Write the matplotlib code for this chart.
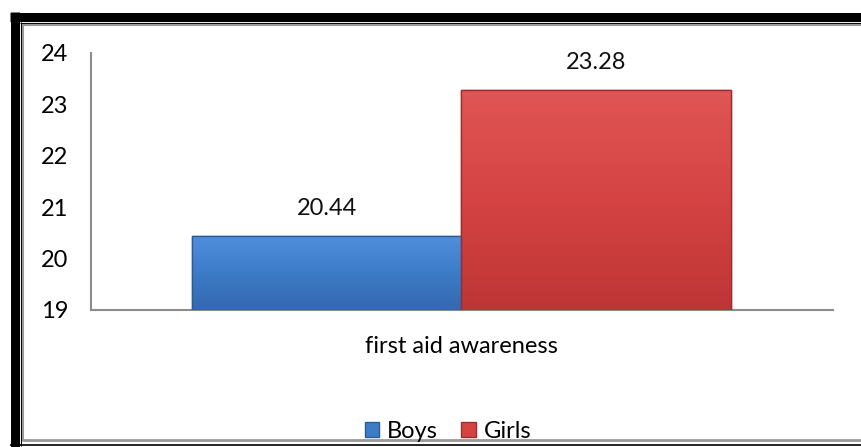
import numpy as np
import matplotlib.pyplot as plt
from matplotlib.patches import Rectangle
from matplotlib.lines import Line2D
from matplotlib.colors import LinearSegmentedColormap

categories = ["first aid awareness"]
groups = ["Boys", "Girls"]
values = [20.44, 23.28]
colors = ["#3D7CC8", "#D54343"]
tops = ["#4F8FDC", "#E05555"]
bottoms = ["#3568B0", "#BE3535"]
edges = ["#2B5C98", "#9E2E2E"]
y_ticks = [19, 20, 21, 22, 23, 24]

plt.rcParams['font.family'] = ['Lato', 'DejaVu Sans']

W, H = 861, 447
fig = plt.figure(figsize=(W / 100, H / 100), dpi=100)


def fx(px):
    return px / W


def fy(py):
    return 1 - py / H


def frame_line(xs, ys, color, lw):
    fig.add_artist(Line2D([fx(v) for v in xs], [fy(v) for v in ys], color=color,
                          lw=lw, solid_capstyle="butt"))


# outer frame (thick black left/top, thin lines inside)
frame_line([14.5, 14.5], [12, 447], "black", 9 * 0.72)
frame_line([10, 861], [16.5, 16.5], "black", 9 * 0.72)
frame_line([20.5, 20.5], [22, 446], "black", 0.8)
frame_line([20, 861], [22.5, 22.5], "black", 0.8)
frame_line([22.5, 22.5], [24, 441], "#999999", 1.5)
frame_line([22, 861], [24.5, 24.5], "#999999", 1.5)
frame_line([22, 861], [440, 440], "#999999", 2)
frame_line([10, 861], [445, 445], "black", 1.2)

ax = fig.add_axes([fx(90.5), fy(310), fx(833) - fx(90.5), fy(53) - fy(310)])

bw = 0.4
for i, (g, v) in enumerate(zip(groups, values)):
    x = -bw / 2 + i * bw
    bars = ax.bar(x, v - 19, bottom=19, width=bw, color=colors[i], edgecolor=edges[i],
                  linewidth=1.0, label=g, zorder=3)
    # vertical gradient fill
    cmap = LinearSegmentedColormap.from_list("g%d" % i, [bottoms[i], colors[i], tops[i]])
    grad = np.linspace(0, 1, 100).reshape(-1, 1)
    im = ax.imshow(grad, cmap=cmap, origin="lower", aspect="auto", zorder=3.5,
                   extent=(x - bw / 2, x + bw / 2, 19, v))
    im.set_clip_path(bars[0])
    ax.bar(x, v - 19, bottom=19, width=bw, fill=False, edgecolor=edges[i],
           linewidth=1.0, zorder=4)
    ax.annotate("%.2f" % v, (x, v), xytext=(0, 19.5), textcoords="offset points",
                ha="center", va="center", fontsize=17, color="#111111")

ax.set_ylim(19, 24)
ax.set_xlim(-0.55, 0.551)
ax.set_yticks(y_ticks)
ax.set_xticks([0])
ax.set_xticklabels(categories)
ax.tick_params(axis="y", length=0, pad=16, labelsize=17)
ax.tick_params(axis="x", length=0, pad=19, labelsize=17)
for s in ["top", "right"]:
    ax.spines[s].set_visible(False)
ax.spines["left"].set_color("#8c8c8c")
ax.spines["bottom"].set_color("#8c8c8c")
ax.spines["left"].set_linewidth(1.5)
ax.spines["bottom"].set_linewidth(1.5)

handles = [Rectangle((0, 0), 1, 1, facecolor=colors[i], edgecolor=edges[i]) for i in range(2)]
fig.legend(handles, groups, loc="center", bbox_to_anchor=(fx(448), fy(431)), ncol=2,
           frameon=False, fontsize=17, handlelength=0.6, handleheight=0.6,
           handletextpad=0.35, columnspacing=1.0)

fig.savefig("out.png", dpi=100)
